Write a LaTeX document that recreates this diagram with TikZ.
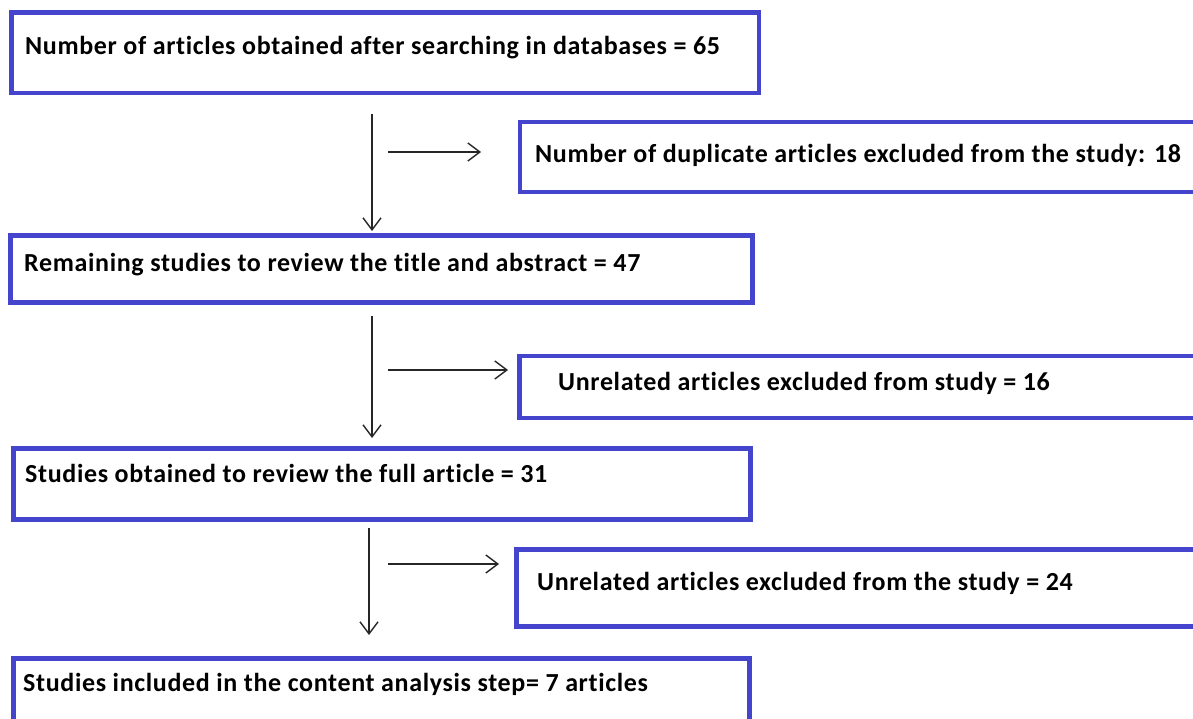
\documentclass[tikz,border=0pt]{standalone}
\usepackage{fontspec}
\setmainfont{Carlito}[LetterSpace=2.5,Ligatures=NoCommon]
\usetikzlibrary{arrows.meta}
\definecolor{boxblue}{RGB}{68,68,204}
\tikzset{
  box/.style={draw=boxblue, line width=4.5pt, outer sep=0pt, inner sep=0pt, anchor=north west},
  lbl/.style={anchor=base west, inner sep=0pt, font=\fontsize{26}{30}\selectfont\bfseries},
  arr/.style={draw=black!85, line width=1.4pt, -{Straight Barb[length=12pt,width=18pt]}}
}
\begin{document}
\begin{tikzpicture}[x=1pt,y=-1pt]
\clip (0,0) rectangle (1193,719);
\fill[white] (0,0) rectangle (1193,719);
% boxes
\node[box, minimum width=747.5, minimum height=80.5] (b1) at (11.5,12.5) {};
\node[box, minimum width=690, minimum height=70] (b2) at (520,122) {};
\node[box, minimum width=742, minimum height=67] (b3) at (10.5,235.5) {};
\node[box, minimum width=690, minimum height=62] (b4) at (519.5,356) {};
\node[box, minimum width=737, minimum height=71] (b5) at (13.5,448.5) {};
\node[box, minimum width=694, minimum height=77] (b6) at (516.5,549.5) {};
\node[box, minimum width=736, minimum height=80] (b7) at (13.5,658.5) {};
% texts
\node[lbl] (t1) at (25,55) {Number of articles obtained after searching in databases = 65};
\node[lbl] (t2) at (535,163) {Number of duplicate articles excluded from the study: 18};
\node[lbl] (t3) at (24,271) {Remaining studies to review the title and abstract = 47};
\node[lbl] (t4) at (558,390) {Unrelated articles excluded from study = 16};
\node[lbl] (t5) at (25,482) {Studies obtained to review the full article = 31};
\node[lbl] (t6) at (537,590) {Unrelated articles excluded from the study = 24};
\node[lbl] (t7) at (23,691) {Studies included in the content analysis step= 7 articles};
% arrow ends
\coordinate (v1s) at (372,114);
\coordinate (v1e) at (372,231);
\coordinate (h1s) at (388,152);
\coordinate (h1e) at (481,152);
\coordinate (v2s) at (372,316);
\coordinate (v2e) at (372,438);
\coordinate (h2s) at (388,370);
\coordinate (h2e) at (508,370);
\coordinate (v3s) at (369,528);
\coordinate (v3e) at (369,635);
\coordinate (h3s) at (388,564);
\coordinate (h3e) at (499,564);
\draw[arr] (v1s) -- (v1e);
\draw[arr] (h1s) -- (h1e);
\draw[arr] (v2s) -- (v2e);
\draw[arr] (h2s) -- (h2e);
\draw[arr] (v3s) -- (v3e);
\draw[arr] (h3s) -- (h3e);
\end{tikzpicture}
\end{document}
